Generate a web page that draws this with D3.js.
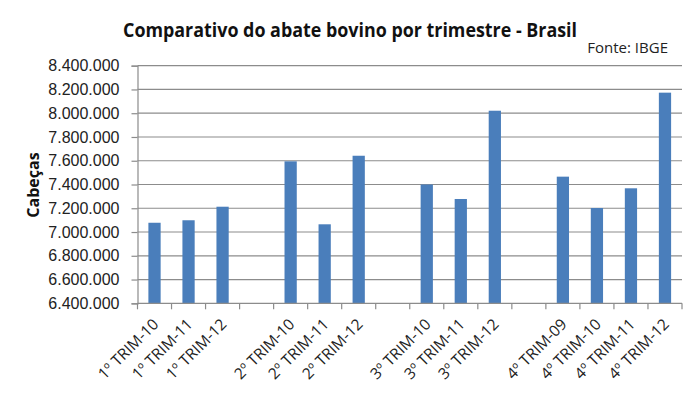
<!DOCTYPE html>
<html>
<head>
<meta charset="utf-8">
<script src="https://cdn.jsdelivr.net/npm/d3@7"></script>
<style>
body{margin:0;background:#fff;}
svg{display:block;}
</style>
</head>
<body>
<script>
// slots of the chart, "" = empty gap between quarters
let categories=["1º TRIM-10","1º TRIM-11","1º TRIM-12","",
"2º TRIM-10","2º TRIM-11","2º TRIM-12","",
"3º TRIM-10","3º TRIM-11","3º TRIM-12","",
"4º TRIM-09","4º TRIM-10","4º TRIM-11","4º TRIM-12"];
let values=[7078000,7099000,7213000,null,
7595000,7065000,7642000,null,
7400000,7278000,8021000,null,
7466000,7202000,7368000,8173000];
let yTicks=d3.range(6400000,8400001,200000);

let W=700,H=398;
let pLeft=137.5,pRight=682,pTop=65.7,pBottom=303.3;

let svg=d3.select("body").append("svg").attr("width",W).attr("height",H);

let x=d3.scaleBand().domain(d3.range(categories.length)).range([pLeft,pRight]).paddingInner(0).paddingOuter(0);
let y=d3.scaleLinear().domain([6400000,8400000]).range([pBottom,pTop]);

let fmt=d=>d3.format(",")(d).replace(/,/g,".");

// gridlines
svg.append("g").selectAll("line").data(yTicks.slice(1)).enter().append("line")
  .attr("x1",pLeft).attr("x2",pRight).attr("y1",d=>y(d)).attr("y2",d=>y(d))
  .attr("stroke","#8c8c8c").attr("stroke-width",1.2);

// y axis
let yAxis=svg.append("g").attr("transform",`translate(${pLeft},0)`)
  .call(d3.axisLeft(y).tickValues(yTicks).tickFormat(fmt).tickSize(6).tickPadding(12));
yAxis.select(".domain").attr("stroke","#8c8c8c").attr("stroke-width",1.2);
yAxis.selectAll(".tick line").attr("stroke","#8c8c8c").attr("stroke-width",1.2);
yAxis.selectAll("text").style("font","16px 'Liberation Sans', Arial, sans-serif").attr("fill","#222");

// bars
svg.append("g").selectAll("rect").data(values.map((v,i)=>[v,i]).filter(d=>d[0]!=null)).enter().append("rect")
  .attr("x",d=>x(d[1])+x.bandwidth()*0.32)
  .attr("width",x.bandwidth()*0.36)
  .attr("y",d=>y(d[0]))
  .attr("height",d=>pBottom-y(d[0]))
  .attr("fill","#4a7ebb");

// x axis
let xb=svg.append("g").attr("transform",`translate(0,${pBottom})`);
xb.append("line").attr("x1",pLeft).attr("x2",pRight).attr("stroke","#8c8c8c").attr("stroke-width",1.2);
xb.selectAll("line.tk").data(d3.range(categories.length+1)).enter().append("line").attr("class","tk")
  .attr("x1",d=>pLeft+d*x.step()).attr("x2",d=>pLeft+d*x.step()).attr("y1",0).attr("y2",6)
  .attr("stroke","#8c8c8c").attr("stroke-width",1.2);
xb.selectAll("text").data(categories.map((c,i)=>[c,i]).filter(d=>d[0]!="")).enter().append("text")
  .text(d=>d[0])
  .attr("text-anchor","end")
  .attr("transform",d=>`translate(${x(d[1])+x.bandwidth()/2+5},${22}) rotate(-45)`)
  .style("font","15.5px 'Open Sans', sans-serif").attr("fill","#222");

// titles
svg.append("text").text("Comparativo do abate bovino por trimestre - Brasil")
  .attr("x",350).attr("y",37).attr("text-anchor","middle")
  .attr("textLength",454).attr("lengthAdjust","spacingAndGlyphs")
  .style("font","bold 19px 'Open Sans', sans-serif").attr("fill","#111");
svg.append("text").text("Fonte: IBGE")
  .attr("x",668).attr("y",53).attr("text-anchor","end")
  .style("font","15px 'Open Sans', sans-serif").attr("fill","#222");
svg.append("text").text("Cabeças")
  .attr("transform","translate(39,185) rotate(-90)").attr("text-anchor","middle")
  .style("font","bold 16px 'Open Sans', sans-serif").attr("fill","#111");
</script>
</body>
</html>
